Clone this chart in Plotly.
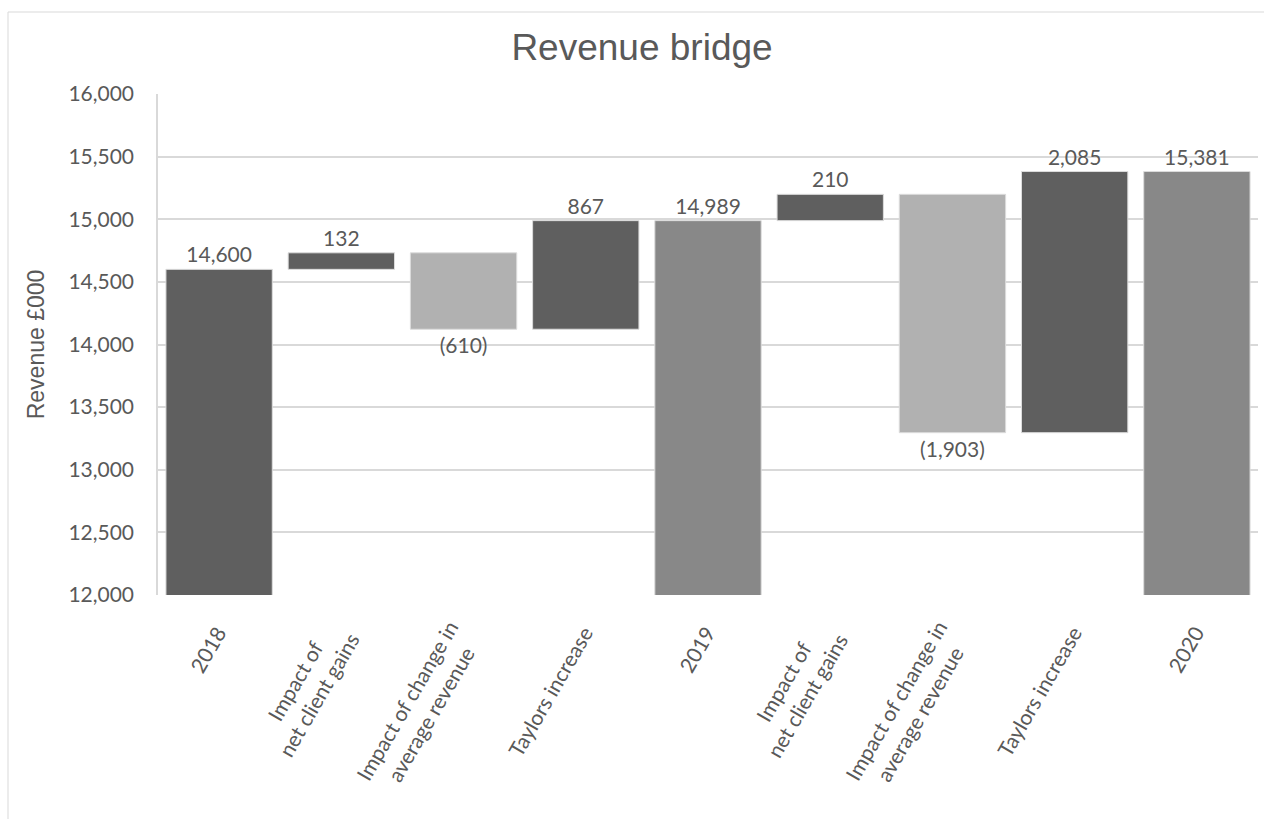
import plotly.graph_objects as go

categories = ["2018", "Impact of<br>net client gains", "Impact of change in<br>average revenue",
              "Taylors increase", "2019", "Impact of<br>net client gains",
              "Impact of change in<br>average revenue", "Taylors increase", "2020"]
values = [14600, 132, -610, 867, 14989, 210, -1903, 2085, 15381]
kinds = ["start", "delta", "delta", "delta", "total", "delta", "delta", "delta", "total"]

COL_DARK = "#5f5f5f"
COL_LIGHT = "#b1b1b1"
COL_TOTAL = "#888888"
TXT = "#595959"

bases, heights, colors, texts = [], [], [], []
running = 0
for v, k in zip(values, kinds):
    if k in ("start", "total"):
        bases.append(0)
        heights.append(v)
        running = v
        colors.append(COL_DARK if k == "start" else COL_TOTAL)
    else:
        bases.append(running)
        heights.append(v)
        running += v
        colors.append(COL_DARK if v >= 0 else COL_LIGHT)
    texts.append(f"{v:,}" if v >= 0 else f"({abs(v):,})")

x_idx = list(range(len(categories)))

fig = go.Figure()
fig.add_trace(go.Bar(
    x=x_idx, y=heights, base=bases,
    marker=dict(color=colors, line=dict(color="#dcdcdc", width=1)),
    width=0.87,
    text=texts, textposition="outside", constraintext="none",
    textfont=dict(family="Lato", size=21, color=TXT),
    cliponaxis=False,
    showlegend=False,
))

px_left, px_right, px_top, px_bottom = 158, 1258, 94, 595
W, H = 1264, 819
pw, ph = px_right - px_left, px_bottom - px_top

# category labels, centred lines, rotated like the reference
annotations = []
for i, c in zip(x_idx, categories):
    extra = c.count("<br>")
    annotations.append(dict(x=i, y=0, xref="x", yref="paper", text=c, showarrow=False,
                            textangle=-60, align="center", xanchor="right", yanchor="top",
                            xshift=14 + 11 * extra, yshift=-24 + 6 * extra,
                            font=dict(family="Lato", size=21, color=TXT)))

fig.update_layout(
    width=W, height=H,
    margin=dict(l=px_left, r=W - px_right, t=px_top, b=H - px_bottom),
    paper_bgcolor="white", plot_bgcolor="white",
    title=dict(text="Revenue bridge", x=642 / W, xanchor="center", y=1 - 47 / H, yanchor="middle",
               font=dict(family="Liberation Sans", size=37, color=TXT)),
    xaxis=dict(
        tickmode="array", tickvals=x_idx, ticktext=[""] * len(x_idx),
        range=[-0.5, len(categories) - 0.5],
        showgrid=False, showline=False, zeroline=False, ticks="",
    ),
    yaxis=dict(
        range=[12000, 16000], tickvals=[12000, 12500, 13000, 13500, 14000, 14500, 15000, 15500, 16000],
        tickformat=",d", tickfont=dict(family="Lato", size=21, color=TXT),
        showgrid=True, gridcolor="#d9d9d9", gridwidth=1.5,
        showline=True, linecolor="#d9d9d9", linewidth=1.5,
        zeroline=False, ticks="", ticklabelstandoff=18,
        title=dict(text="Revenue £000", standoff=17,
                   font=dict(family="Liberation Sans", size=23, color=TXT)),
    ),
    annotations=annotations,
    shapes=[dict(type="rect", xref="paper", yref="paper",
                 x0=(8 - px_left) / pw, x1=(1275 - px_left) / pw,
                 y0=(px_bottom - 830) / ph, y1=(px_bottom - 12) / ph,
                 line=dict(color="#d9d9d9", width=1), fillcolor="rgba(0,0,0,0)", layer="below")],
)

fig.write_html("out.html")
